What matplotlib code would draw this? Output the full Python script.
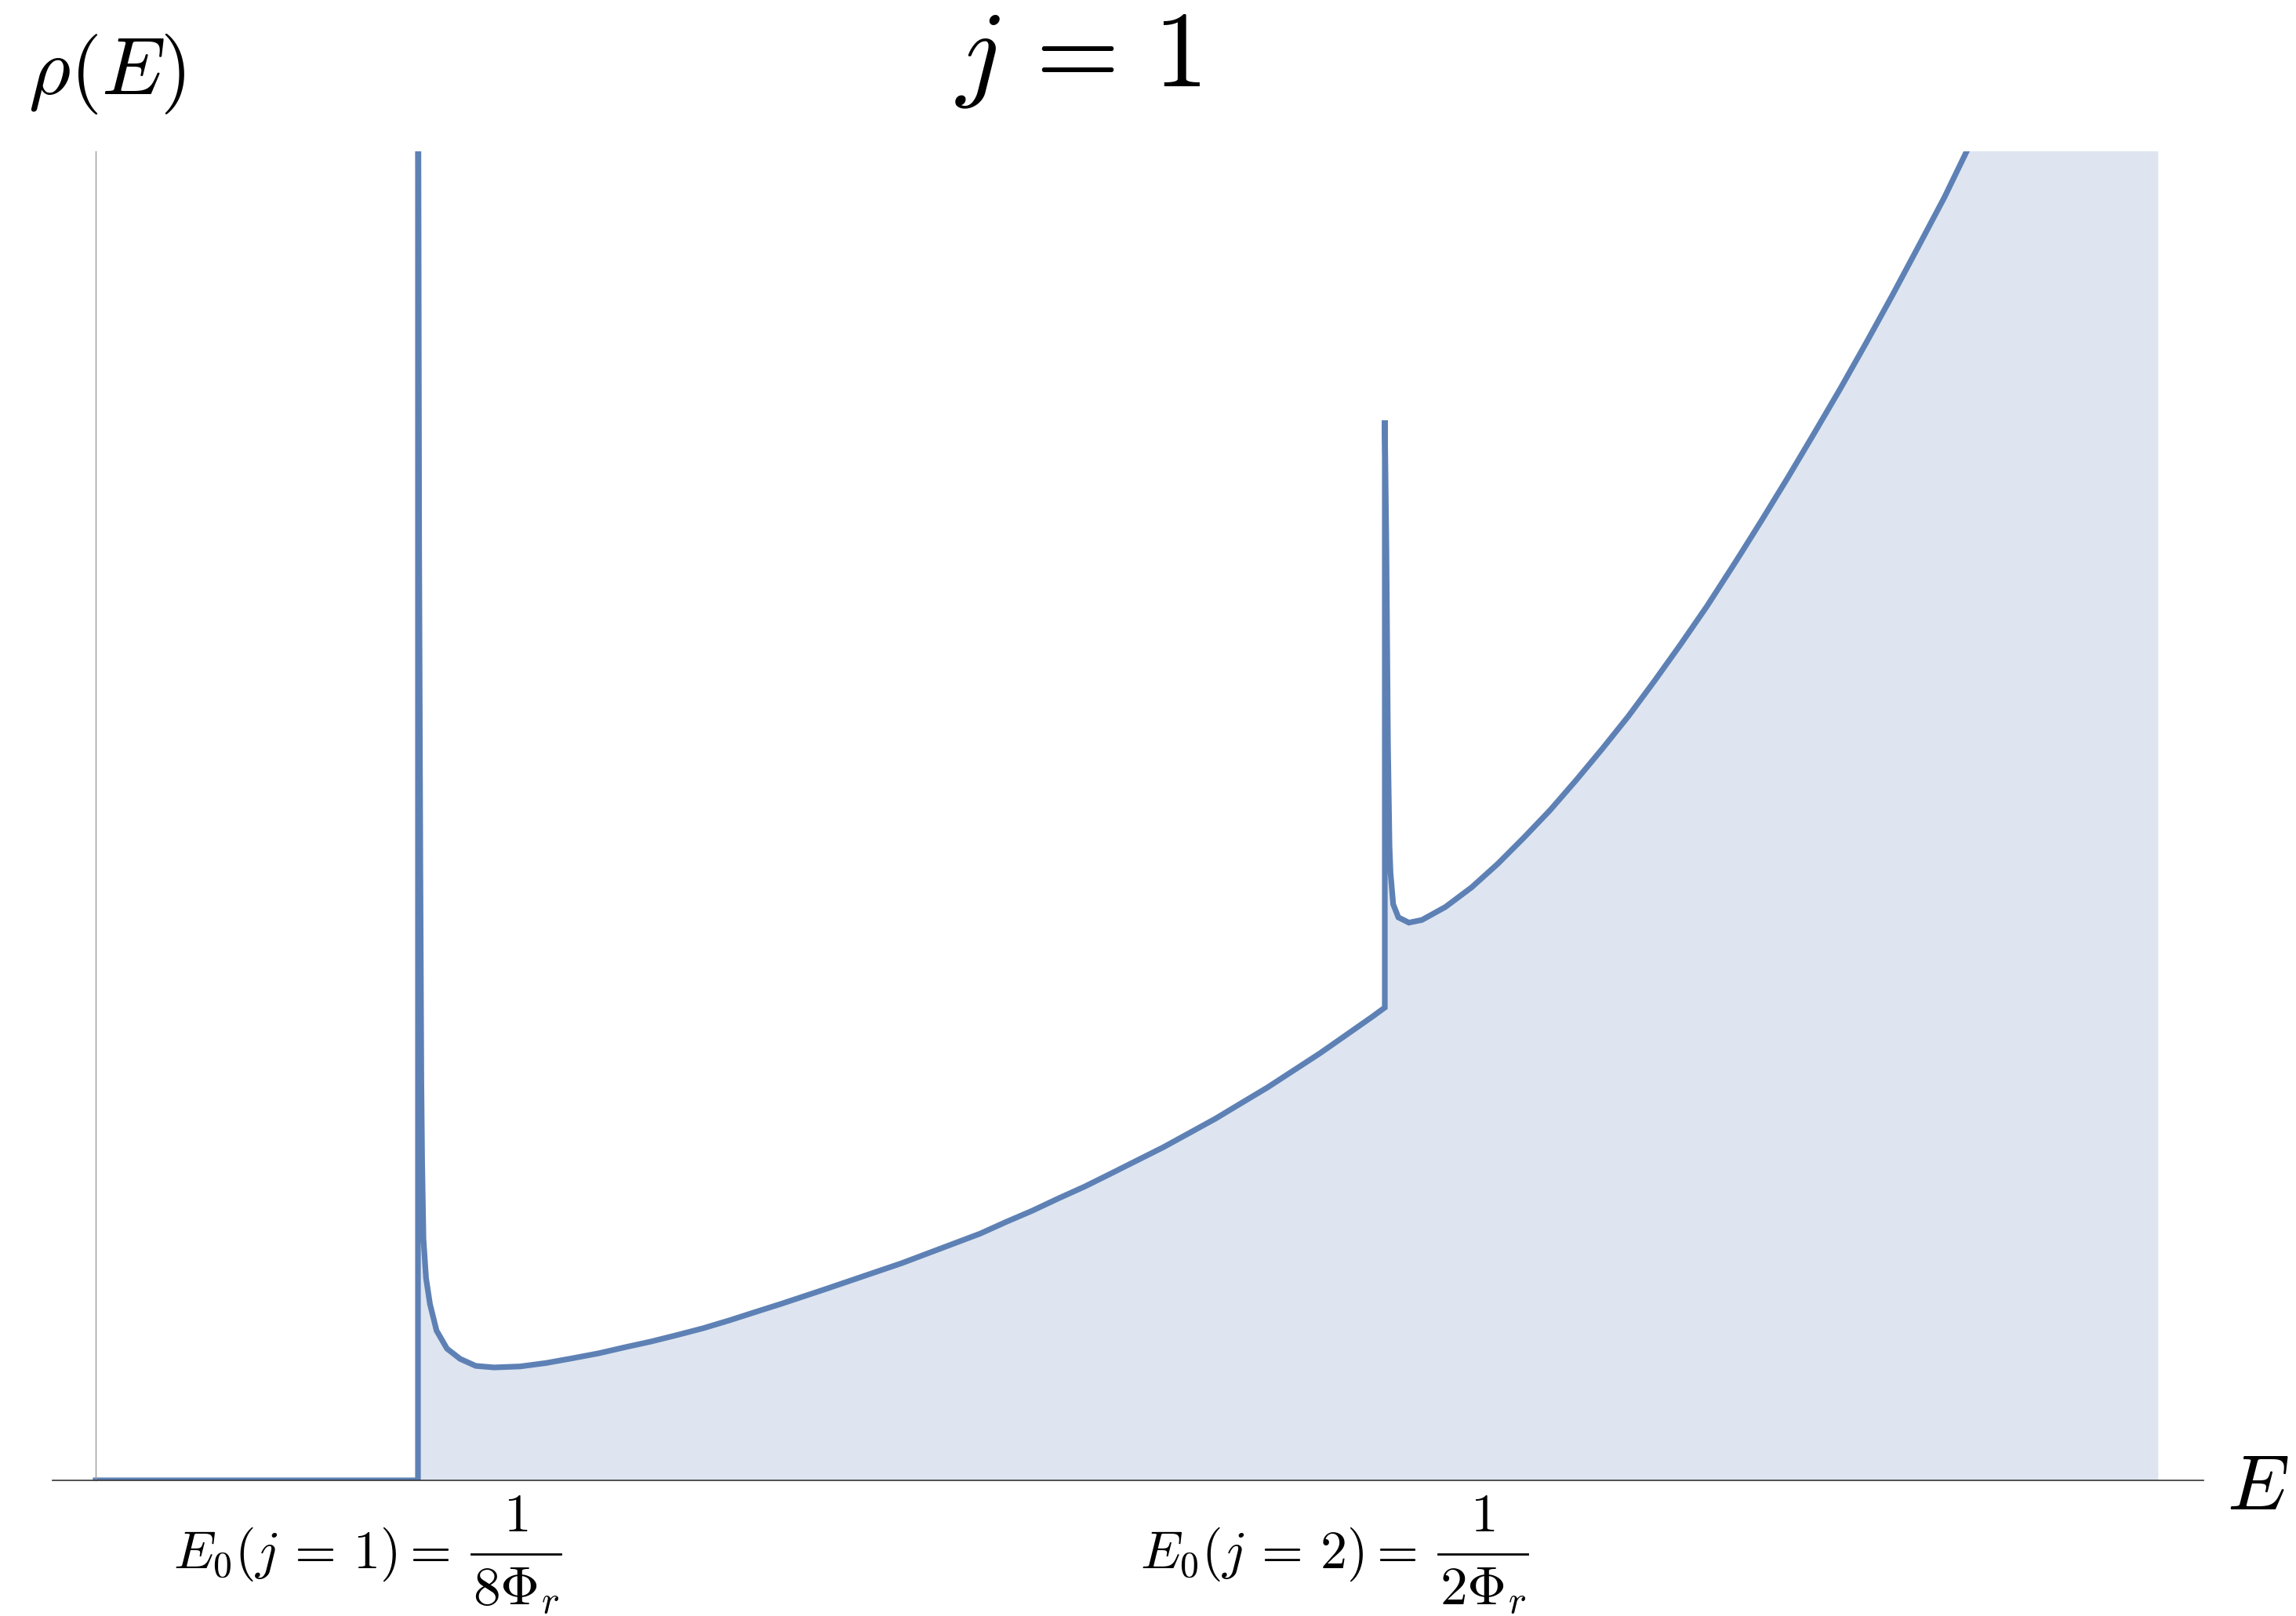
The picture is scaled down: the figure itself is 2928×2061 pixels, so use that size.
import matplotlib
matplotlib.use("Agg")
import matplotlib.pyplot as plt
from matplotlib.lines import Line2D
from matplotlib.transforms import IdentityTransform

plt.rcParams['mathtext.fontset'] = 'cm'

# thresholds E0(j) = 1/(2j)^2 with Phi_r = 1, and where the filling stops
thresholds = [1 / 8, 1 / 2]
label_j = [1, 2]
label_den = ['8', '2']
E_end = 0.8

# rho(E): flat zero, jump at 1/8, branch, jump at 1/2, branch
E = [0.0, 0.125, 0.125, 0.12546, 0.12591, 0.12631, 0.12661, 0.12713, 0.12813,
     0.12965, 0.13221, 0.13625, 0.14133, 0.14741, 0.15450, 0.16463, 0.17479,
     0.18491, 0.19504, 0.20520, 0.21533, 0.22546, 0.23561, 0.24574, 0.25587,
     0.26603, 0.28224, 0.31265, 0.34307, 0.35319, 0.36335, 0.37348, 0.38361,
     0.39377, 0.40389, 0.41402, 0.42418, 0.43431, 0.44443, 0.45459, 0.46472,
     0.47485, 0.48501, 0.49513, 0.5,
     0.5, 0.50061, 0.50122, 0.50182, 0.50222, 0.50325, 0.50526, 0.50934,
     0.51439, 0.52351, 0.53367, 0.54380, 0.55393, 0.56409, 0.57421, 0.58434,
     0.59450, 0.60462, 0.61475, 0.62491, 0.63504, 0.63808, 0.64620, 0.65633,
     0.66645, 0.67661, 0.68674, 0.69687, 0.70702, 0.71715, 0.72567, 0.75, E_end]
rho = [0.0, 0.0, 20.0, 11.88, 7.88, 5.08, 4.08, 3.08, 2.58,
       2.25, 1.91, 1.68, 1.55, 1.46, 1.44, 1.453, 1.497,
       1.557, 1.62, 1.697, 1.77, 1.853, 1.94, 2.04, 2.147,
       2.253, 2.43, 2.77, 3.147, 3.297, 3.44, 3.597, 3.747,
       3.913, 4.08, 4.247, 4.43, 4.613, 4.813, 5.013, 5.23,
       5.447, 5.68, 5.913, 6.03,
       13.52, 11.88, 9.38, 8.08, 7.747, 7.347, 7.18, 7.113,
       7.147, 7.313, 7.563, 7.863, 8.197, 8.547, 8.93, 9.33,
       9.747, 10.197, 10.663, 11.147, 11.663, 11.82, 12.246, 12.79,
       13.35, 13.92, 14.51, 15.115, 15.74, 16.37, 16.95, 18.6, 22.2]

line_col = '#5E81B5'
W, H = 2928, 2061

fig = plt.figure(figsize=(W / 100, H / 100), dpi=100)
# axes box in pixels: x 67..2810, y 193..1888
ax = fig.add_axes([67 / W, (H - 1888) / H, 2743 / W, 1695 / H])
ax.set_xlim(-0.01673, 0.81752)
ax.set_ylim(0, 16.95)

# filling only from the first threshold on
i0 = 2
ax.fill_between(E[i0:], rho[i0:], 0, color=line_col, alpha=0.2, lw=0)
ax.plot(E, rho, color=line_col, lw=5.2, solid_joinstyle='miter')

# Mathematica-like axes
for s in ['top', 'right']:
    ax.spines[s].set_visible(False)
ax.spines['left'].set_position(('data', 0))
ax.spines['left'].set_color('#9a9a9a')
ax.spines['left'].set_linewidth(1.0)
ax.spines['bottom'].set_color('#333333')
ax.spines['bottom'].set_linewidth(1.2)
ax.spines['bottom'].set_zorder(5)
ax.set_xticks([])
ax.set_yticks([])

pix = IdentityTransform()


def at(x, y):
    # image pixels (from top) -> display pixels (from bottom)
    return x, H - y


fig.text(*at(1375, 110), r'$j\,=\,1$', fontsize=99, ha='center',
         va='baseline', transform=pix)
fig.text(*at(136, 95), r'$\rho(E)$', fontsize=74, ha='center', va='center',
         transform=pix)
fig.text(*at(2840, 1925), r'$E$', fontsize=72, ha='left', va='baseline',
         transform=pix)

# threshold labels, E0(j) = 1/(n Phi_r) written as a display fraction
for e0, j, den in zip(thresholds, label_j, label_den):
    x0 = ax.transData.transform((e0, 0))[0]
    fig.text(*at(x0 - 312, 2000), r'$E_0(j\,=\,%d)=$' % j, fontsize=49,
             ha='left', va='baseline', transform=pix)
    xc = x0 + 125
    fig.add_artist(Line2D([xc - 57, xc + 57], [H - 1982, H - 1982],
                          transform=pix, color='black', lw=2.0))
    fig.text(*at(xc, 1953), r'$1$', fontsize=50, ha='center', va='baseline',
             transform=pix)
    fig.text(*at(xc, 2047), r'$%s\Phi_r$' % den, fontsize=50, ha='center',
             va='baseline', transform=pix)

fig.savefig('out.png', dpi=100)
